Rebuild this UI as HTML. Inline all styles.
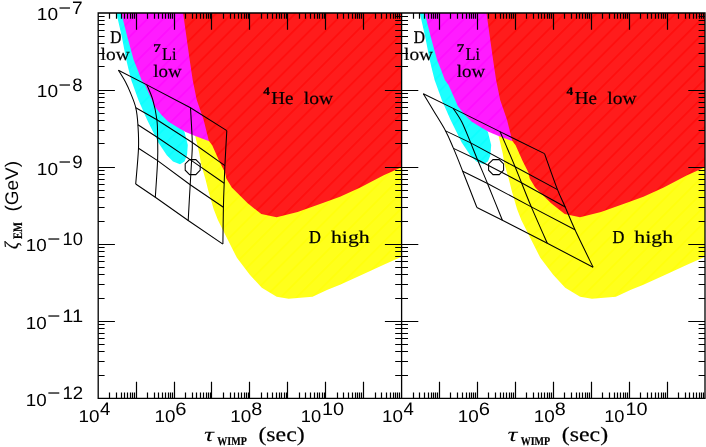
<!DOCTYPE html>
<html><head><meta charset="utf-8"><title>plot</title>
<style>
html,body{margin:0;padding:0;background:#fff;}
svg{display:block}
text{font-family:"Liberation Sans",sans-serif;fill:#000;text-rendering:geometricPrecision}
.s{font-family:"Liberation Serif",serif;stroke:#000;stroke-width:0.2px}
</style></head><body>
<svg width="706" height="447" viewBox="0 0 706 447">
<defs>
<pattern id="pr" patternUnits="userSpaceOnUse" width="11.2" height="11.2" patternTransform="rotate(-45)"><rect width="11.2" height="11.2" fill="#ff1c1c"/><line x1="0" y1="5.6" x2="11.2" y2="5.6" stroke="#ff0000" stroke-width="0.9"/></pattern>
<pattern id="pm" patternUnits="userSpaceOnUse" width="11.2" height="11.2" patternTransform="rotate(-45)"><rect width="11.2" height="11.2" fill="#ff1cff"/><line x1="0" y1="5.6" x2="11.2" y2="5.6" stroke="#ff00ff" stroke-width="0.9"/></pattern>
<pattern id="pc" patternUnits="userSpaceOnUse" width="11.2" height="11.2" patternTransform="rotate(-45)"><rect width="11.2" height="11.2" fill="#1cffff"/><line x1="0" y1="5.6" x2="11.2" y2="5.6" stroke="#00ffff" stroke-width="0.9"/></pattern>
<pattern id="py" patternUnits="userSpaceOnUse" width="11.2" height="11.2" patternTransform="rotate(-45)"><rect width="11.2" height="11.2" fill="#ffff1c"/><line x1="0" y1="5.6" x2="11.2" y2="5.6" stroke="#ffff00" stroke-width="0.9"/></pattern>
<clipPath id="cl"><rect x="98.2" y="13.0" width="303.4" height="385.4"/></clipPath>
<clipPath id="cr"><rect x="401.6" y="13.0" width="303.4" height="385.4"/></clipPath>
</defs>
<rect width="706" height="447" fill="#fff"/>
<g clip-path="url(#cl)">
<polygon points="195.2,136.1 199.4,153.8 200.8,163.0 205.6,179.8 208.1,190.0 213.6,209.0 217.9,220.0 225.9,235.9 236.9,257.8 249.8,274.8 261.8,287.7 276.7,296.7 288.6,298.7 312.5,296.7 327.5,289.7 340.0,284.7 359.8,275.7 383.7,264.8 401.6,256.8 410.0,256.0 410.0,136.1" fill="url(#py)"/>
<polygon points="116.4,13.0 121.8,36.8 126.3,60.0 128.7,70.0 131.2,80.0 138.5,100.3 147.2,120.0 158.3,142.5 166.8,155.2 173.0,161.5 180.0,164.2 184.5,161.5 187.0,155.3 187.8,145.0 184.5,131.9 170.0,110.0 150.0,60.0 125.0,13.0" fill="url(#pc)"/>
<polygon points="121.3,13.0 127.3,36.8 133.7,60.0 137.7,70.0 141.5,80.0 145.1,84.9 150.5,97.0 154.5,106.2 161.3,114.7 168.1,121.5 178.2,127.8 185.1,131.7 195.2,136.1 208.6,141.1 215.0,141.0 200.0,13.0" fill="url(#pm)"/>
<polygon points="183.1,13.0 189.7,60.0 192.7,80.0 196.7,99.8 203.6,119.8 208.8,140.8 212.2,145.3 219.2,160.9 225.0,172.6 226.3,178.4 231.8,187.5 247.7,203.3 261.3,214.1 276.6,217.2 297.6,212.0 323.5,202.7 340.0,196.7 359.8,187.8 383.7,175.2 401.6,167.2 410.0,167.2 410.0,13.0" fill="url(#pr)"/>
</g>
<g clip-path="url(#cr)">
<polygon points="498.6,136.1 502.8,153.8 504.2,163.0 509.0,179.8 511.5,190.0 517.0,209.0 521.3,220.0 529.3,235.9 540.3,257.8 553.2,274.8 565.2,287.7 580.1,296.7 592.0,298.7 615.9,296.7 630.9,289.7 643.4,284.7 663.2,275.7 687.1,264.8 705.0,256.8 713.4,256.0 713.4,136.1" fill="url(#py)"/>
<polygon points="419.8,13.0 425.2,36.8 429.7,60.0 432.1,70.0 434.6,80.0 441.9,100.3 450.6,120.0 461.7,142.5 470.2,155.2 476.4,161.5 483.4,164.2 487.9,161.5 490.4,155.3 491.2,145.0 487.9,131.9 473.4,110.0 453.4,60.0 428.4,13.0" fill="url(#pc)"/>
<polygon points="424.7,13.0 430.7,36.8 437.1,60.0 441.1,70.0 444.9,80.0 448.5,84.9 453.9,97.0 457.9,106.2 464.7,114.7 471.5,121.5 481.6,127.8 488.5,131.7 498.6,136.1 512.0,141.1 518.4,141.0 503.4,13.0" fill="url(#pm)"/>
<polygon points="486.5,13.0 493.1,60.0 496.1,80.0 500.1,99.8 507.0,119.8 512.2,140.8 515.6,145.3 522.6,160.9 528.4,172.6 529.7,178.4 535.2,187.5 551.1,203.3 564.7,214.1 580.0,217.2 601.0,212.0 626.9,202.7 643.4,196.7 663.2,187.8 687.1,175.2 705.0,167.2 713.4,167.2 713.4,13.0" fill="url(#pr)"/>
</g>
<g fill="none" stroke="#000" stroke-width="1.05" stroke-linejoin="miter">
<path d="M118.4,70.2 C119.6,72.2 123.4,78.0 125.5,82.0 C127.6,86.0 129.2,89.6 130.9,93.9 C132.6,98.2 134.6,102.7 135.8,107.8 C137.0,112.9 137.5,118.1 137.9,124.8 C138.3,131.5 138.9,138.3 138.5,148.2 C138.1,158.1 136.2,178.0 135.7,184.0"/>
<path d="M146.9,84.9 C147.9,87.4 151.1,94.0 152.8,99.8 C154.5,105.6 156.1,113.5 156.9,119.8 C157.7,126.1 157.5,130.7 157.6,137.5 C157.7,144.3 158.0,150.6 157.6,160.6 C157.2,170.6 155.7,191.2 155.3,197.3"/>
<path d="M190.5,107.8 C190.8,113.6 192.1,133.7 192.3,142.5 C192.5,151.3 191.9,153.6 191.6,160.6 C191.2,167.6 190.8,174.7 190.2,184.7 C189.6,194.7 188.5,214.5 188.2,220.5"/>
<path d="M226.8,130.6 C226.5,136.4 225.3,156.8 224.9,165.6 C224.5,174.4 224.4,176.4 224.2,183.3 C223.9,190.2 223.6,197.2 223.4,207.3 C223.2,217.4 223.0,238.0 222.9,244.1"/>
<path d="M423.3,93.7 C425.0,96.5 429.7,104.3 433.4,110.5 C437.1,116.7 442.2,124.6 445.6,130.9 C449.0,137.2 450.6,141.7 453.5,148.4 C456.4,155.1 458.8,161.3 462.7,171.2 C466.6,181.0 474.5,201.4 476.9,207.5"/>
<path d="M453.2,108.4 C454.6,110.6 458.8,116.0 461.7,121.8 C464.6,127.5 468.1,136.6 470.7,142.9 C473.3,149.2 474.7,152.9 477.5,159.7 C480.3,166.5 483.4,173.4 487.5,183.5 C491.6,193.6 499.9,214.1 502.4,220.2"/>
<path d="M500.0,131.6 C500.9,133.6 502.7,137.5 505.2,143.4 C507.7,149.3 512.4,160.2 515.1,166.8 C517.8,173.4 518.8,176.0 521.5,182.7 C524.2,189.4 527.0,196.8 531.3,206.9 C535.6,217.0 544.6,237.2 547.3,243.3"/>
<path d="M544.5,153.6 C546.7,159.6 554.0,180.7 557.5,189.6 C561.0,198.5 562.3,200.3 565.2,207.0 C568.1,213.7 570.4,219.8 575.0,229.8 C579.6,239.8 590.1,261.0 593.1,267.2"/>
<polyline points="118.4,70.2 146.9,84.9 190.5,107.8 226.8,130.6"/>
<polyline points="135.8,107.8 156.9,119.8 192.3,142.5 224.9,165.6"/>
<polyline points="137.9,124.8 157.6,137.5 191.6,160.6 224.2,183.3"/>
<polyline points="138.5,148.2 157.6,160.6 190.2,184.7 223.4,207.3"/>
<polyline points="135.7,184.0 155.3,197.3 188.2,220.5 222.9,244.1"/>
<polyline points="423.3,93.7 453.2,108.4 500.0,131.6 544.5,153.6"/>
<polyline points="445.6,130.9 470.7,142.9 515.1,166.8 557.5,189.6"/>
<polyline points="453.5,148.4 477.5,159.7 521.5,182.7 565.2,207.0"/>
<polyline points="462.7,171.2 487.5,183.5 531.3,206.9 575.0,229.8"/>
<polyline points="476.9,207.5 502.4,220.2 547.3,243.3 593.1,267.2"/>
<polygon points="200.2,170.2 195.8,174.6 189.6,174.6 185.2,170.2 185.2,164.0 189.6,159.6 195.8,159.6 200.2,164.0"/>
<polygon points="503.6,170.2 499.2,174.6 493.0,174.6 488.6,170.2 488.6,164.0 493.0,159.6 499.2,159.6 503.6,164.0"/>
</g>
<path d="M109.50,13.00v5.8M109.50,398.40v-5.8M116.50,13.00v5.8M116.50,398.40v-5.8M121.50,13.00v5.8M121.50,398.40v-5.8M124.50,13.00v5.8M124.50,398.40v-5.8M127.50,13.00v5.8M127.50,398.40v-5.8M130.50,13.00v5.8M130.50,398.40v-5.8M132.50,13.00v5.8M132.50,398.40v-5.8M134.50,13.00v5.8M134.50,398.40v-5.8M136.50,13.00v16.7M136.50,398.40v-16.7M147.50,13.00v5.8M147.50,398.40v-5.8M154.50,13.00v5.8M154.50,398.40v-5.8M158.50,13.00v5.8M158.50,398.40v-5.8M162.50,13.00v5.8M162.50,398.40v-5.8M165.50,13.00v5.8M165.50,398.40v-5.8M168.50,13.00v5.8M168.50,398.40v-5.8M170.50,13.00v5.8M170.50,398.40v-5.8M172.50,13.00v5.8M172.50,398.40v-5.8M174.50,13.00v16.7M174.50,398.40v-16.7M185.50,13.00v5.8M185.50,398.40v-5.8M192.50,13.00v5.8M192.50,398.40v-5.8M196.50,13.00v5.8M196.50,398.40v-5.8M200.50,13.00v5.8M200.50,398.40v-5.8M203.50,13.00v5.8M203.50,398.40v-5.8M206.50,13.00v5.8M206.50,398.40v-5.8M208.50,13.00v5.8M208.50,398.40v-5.8M210.50,13.00v5.8M210.50,398.40v-5.8M211.50,13.00v16.7M211.50,398.40v-16.7M223.50,13.00v5.8M223.50,398.40v-5.8M230.50,13.00v5.8M230.50,398.40v-5.8M234.50,13.00v5.8M234.50,398.40v-5.8M238.50,13.00v5.8M238.50,398.40v-5.8M241.50,13.00v5.8M241.50,398.40v-5.8M244.50,13.00v5.8M244.50,398.40v-5.8M246.50,13.00v5.8M246.50,398.40v-5.8M248.50,13.00v5.8M248.50,398.40v-5.8M249.50,13.00v16.7M249.50,398.40v-16.7M261.50,13.00v5.8M261.50,398.40v-5.8M267.50,13.00v5.8M267.50,398.40v-5.8M272.50,13.00v5.8M272.50,398.40v-5.8M276.50,13.00v5.8M276.50,398.40v-5.8M279.50,13.00v5.8M279.50,398.40v-5.8M281.50,13.00v5.8M281.50,398.40v-5.8M284.50,13.00v5.8M284.50,398.40v-5.8M286.50,13.00v5.8M286.50,398.40v-5.8M287.50,13.00v16.7M287.50,398.40v-16.7M299.50,13.00v5.8M299.50,398.40v-5.8M305.50,13.00v5.8M305.50,398.40v-5.8M310.50,13.00v5.8M310.50,398.40v-5.8M314.50,13.00v5.8M314.50,398.40v-5.8M317.50,13.00v5.8M317.50,398.40v-5.8M319.50,13.00v5.8M319.50,398.40v-5.8M322.50,13.00v5.8M322.50,398.40v-5.8M324.50,13.00v5.8M324.50,398.40v-5.8M325.50,13.00v16.7M325.50,398.40v-16.7M337.50,13.00v5.8M337.50,398.40v-5.8M343.50,13.00v5.8M343.50,398.40v-5.8M348.50,13.00v5.8M348.50,398.40v-5.8M352.50,13.00v5.8M352.50,398.40v-5.8M355.50,13.00v5.8M355.50,398.40v-5.8M357.50,13.00v5.8M357.50,398.40v-5.8M359.50,13.00v5.8M359.50,398.40v-5.8M361.50,13.00v5.8M361.50,398.40v-5.8M363.50,13.00v16.7M363.50,398.40v-16.7M375.50,13.00v5.8M375.50,398.40v-5.8M381.50,13.00v5.8M381.50,398.40v-5.8M386.50,13.00v5.8M386.50,398.40v-5.8M390.50,13.00v5.8M390.50,398.40v-5.8M393.50,13.00v5.8M393.50,398.40v-5.8M395.50,13.00v5.8M395.50,398.40v-5.8M397.50,13.00v5.8M397.50,398.40v-5.8M399.50,13.00v5.8M399.50,398.40v-5.8M413.50,13.00v5.8M413.50,398.40v-5.8M419.50,13.00v5.8M419.50,398.40v-5.8M424.50,13.00v5.8M424.50,398.40v-5.8M428.50,13.00v5.8M428.50,398.40v-5.8M431.50,13.00v5.8M431.50,398.40v-5.8M433.50,13.00v5.8M433.50,398.40v-5.8M435.50,13.00v5.8M435.50,398.40v-5.8M437.50,13.00v5.8M437.50,398.40v-5.8M439.50,13.00v16.7M439.50,398.40v-16.7M450.50,13.00v5.8M450.50,398.40v-5.8M457.50,13.00v5.8M457.50,398.40v-5.8M462.50,13.00v5.8M462.50,398.40v-5.8M466.50,13.00v5.8M466.50,398.40v-5.8M469.50,13.00v5.8M469.50,398.40v-5.8M471.50,13.00v5.8M471.50,398.40v-5.8M473.50,13.00v5.8M473.50,398.40v-5.8M475.50,13.00v5.8M475.50,398.40v-5.8M477.50,13.00v16.7M477.50,398.40v-16.7M488.50,13.00v5.8M488.50,398.40v-5.8M495.50,13.00v5.8M495.50,398.40v-5.8M500.50,13.00v5.8M500.50,398.40v-5.8M503.50,13.00v5.8M503.50,398.40v-5.8M506.50,13.00v5.8M506.50,398.40v-5.8M509.50,13.00v5.8M509.50,398.40v-5.8M511.50,13.00v5.8M511.50,398.40v-5.8M513.50,13.00v5.8M513.50,398.40v-5.8M515.50,13.00v16.7M515.50,398.40v-16.7M526.50,13.00v5.8M526.50,398.40v-5.8M533.50,13.00v5.8M533.50,398.40v-5.8M538.50,13.00v5.8M538.50,398.40v-5.8M541.50,13.00v5.8M541.50,398.40v-5.8M544.50,13.00v5.8M544.50,398.40v-5.8M547.50,13.00v5.8M547.50,398.40v-5.8M549.50,13.00v5.8M549.50,398.40v-5.8M551.50,13.00v5.8M551.50,398.40v-5.8M553.50,13.00v16.7M553.50,398.40v-16.7M564.50,13.00v5.8M564.50,398.40v-5.8M571.50,13.00v5.8M571.50,398.40v-5.8M576.50,13.00v5.8M576.50,398.40v-5.8M579.50,13.00v5.8M579.50,398.40v-5.8M582.50,13.00v5.8M582.50,398.40v-5.8M585.50,13.00v5.8M585.50,398.40v-5.8M587.50,13.00v5.8M587.50,398.40v-5.8M589.50,13.00v5.8M589.50,398.40v-5.8M591.50,13.00v16.7M591.50,398.40v-16.7M602.50,13.00v5.8M602.50,398.40v-5.8M609.50,13.00v5.8M609.50,398.40v-5.8M614.50,13.00v5.8M614.50,398.40v-5.8M617.50,13.00v5.8M617.50,398.40v-5.8M620.50,13.00v5.8M620.50,398.40v-5.8M623.50,13.00v5.8M623.50,398.40v-5.8M625.50,13.00v5.8M625.50,398.40v-5.8M627.50,13.00v5.8M627.50,398.40v-5.8M629.50,13.00v16.7M629.50,398.40v-16.7M640.50,13.00v5.8M640.50,398.40v-5.8M647.50,13.00v5.8M647.50,398.40v-5.8M651.50,13.00v5.8M651.50,398.40v-5.8M655.50,13.00v5.8M655.50,398.40v-5.8M658.50,13.00v5.8M658.50,398.40v-5.8M661.50,13.00v5.8M661.50,398.40v-5.8M663.50,13.00v5.8M663.50,398.40v-5.8M665.50,13.00v5.8M665.50,398.40v-5.8M667.50,13.00v16.7M667.50,398.40v-16.7M678.50,13.00v5.8M678.50,398.40v-5.8M685.50,13.00v5.8M685.50,398.40v-5.8M689.50,13.00v5.8M689.50,398.40v-5.8M693.50,13.00v5.8M693.50,398.40v-5.8M696.50,13.00v5.8M696.50,398.40v-5.8M699.50,13.00v5.8M699.50,398.40v-5.8M701.50,13.00v5.8M701.50,398.40v-5.8M703.50,13.00v5.8M703.50,398.40v-5.8M98.20,66.50h6.4M395.20,66.50h12.8M705.00,66.50h-6.4M98.20,53.50h6.4M395.20,53.50h12.8M705.00,53.50h-6.4M98.20,43.50h6.4M395.20,43.50h12.8M705.00,43.50h-6.4M98.20,36.50h6.4M395.20,36.50h12.8M705.00,36.50h-6.4M98.20,30.50h6.4M395.20,30.50h12.8M705.00,30.50h-6.4M98.20,24.50h6.4M395.20,24.50h12.8M705.00,24.50h-6.4M98.20,20.50h6.4M395.20,20.50h12.8M705.00,20.50h-6.4M98.20,16.50h6.4M395.20,16.50h12.8M705.00,16.50h-6.4M98.20,90.50h16.7M384.90,90.50h33.4M705.00,90.50h-16.7M98.20,143.50h6.4M395.20,143.50h12.8M705.00,143.50h-6.4M98.20,130.50h6.4M395.20,130.50h12.8M705.00,130.50h-6.4M98.20,120.50h6.4M395.20,120.50h12.8M705.00,120.50h-6.4M98.20,113.50h6.4M395.20,113.50h12.8M705.00,113.50h-6.4M98.20,107.50h6.4M395.20,107.50h12.8M705.00,107.50h-6.4M98.20,102.50h6.4M395.20,102.50h12.8M705.00,102.50h-6.4M98.20,97.50h6.4M395.20,97.50h12.8M705.00,97.50h-6.4M98.20,93.50h6.4M395.20,93.50h12.8M705.00,93.50h-6.4M98.20,167.50h16.7M384.90,167.50h33.4M705.00,167.50h-16.7M98.20,221.50h6.4M395.20,221.50h12.8M705.00,221.50h-6.4M98.20,207.50h6.4M395.20,207.50h12.8M705.00,207.50h-6.4M98.20,197.50h6.4M395.20,197.50h12.8M705.00,197.50h-6.4M98.20,190.50h6.4M395.20,190.50h12.8M705.00,190.50h-6.4M98.20,184.50h6.4M395.20,184.50h12.8M705.00,184.50h-6.4M98.20,179.50h6.4M395.20,179.50h12.8M705.00,179.50h-6.4M98.20,174.50h6.4M395.20,174.50h12.8M705.00,174.50h-6.4M98.20,170.50h6.4M395.20,170.50h12.8M705.00,170.50h-6.4M98.20,244.50h16.7M384.90,244.50h33.4M705.00,244.50h-16.7M98.20,298.50h6.4M395.20,298.50h12.8M705.00,298.50h-6.4M98.20,284.50h6.4M395.20,284.50h12.8M705.00,284.50h-6.4M98.20,274.50h6.4M395.20,274.50h12.8M705.00,274.50h-6.4M98.20,267.50h6.4M395.20,267.50h12.8M705.00,267.50h-6.4M98.20,261.50h6.4M395.20,261.50h12.8M705.00,261.50h-6.4M98.20,256.50h6.4M395.20,256.50h12.8M705.00,256.50h-6.4M98.20,251.50h6.4M395.20,251.50h12.8M705.00,251.50h-6.4M98.20,247.50h6.4M395.20,247.50h12.8M705.00,247.50h-6.4M98.20,321.50h16.7M384.90,321.50h33.4M705.00,321.50h-16.7M98.20,375.50h6.4M395.20,375.50h12.8M705.00,375.50h-6.4M98.20,361.50h6.4M395.20,361.50h12.8M705.00,361.50h-6.4M98.20,351.50h6.4M395.20,351.50h12.8M705.00,351.50h-6.4M98.20,344.50h6.4M395.20,344.50h12.8M705.00,344.50h-6.4M98.20,338.50h6.4M395.20,338.50h12.8M705.00,338.50h-6.4M98.20,333.50h6.4M395.20,333.50h12.8M705.00,333.50h-6.4M98.20,328.50h6.4M395.20,328.50h12.8M705.00,328.50h-6.4M98.20,324.50h6.4M395.20,324.50h12.8M705.00,324.50h-6.4" stroke="#000" stroke-width="1.2" fill="none"/>
<path d="M98.2,13.0H705.0V398.4H98.2ZM401.6,13.0V398.4" stroke="#000" stroke-width="1.3" fill="none"/>
<g opacity="0.999">
<text class="s" x="110.23" y="43.10" font-size="17.9" textLength="11.22" lengthAdjust="spacingAndGlyphs" style="stroke-width:0.35px">D</text>
<text class="s" x="100.61" y="59.80" font-size="17.6" textLength="29.09" lengthAdjust="spacingAndGlyphs">low</text>
<text class="s" font-weight="bold" x="153.38" y="51.50" font-size="11.9" textLength="7.50" lengthAdjust="spacingAndGlyphs">7</text>
<text class="s" x="162.11" y="59.90" font-size="17.9" textLength="14.49" lengthAdjust="spacingAndGlyphs">Li</text>
<text class="s" x="153.32" y="77.10" font-size="17.6" textLength="28.38" lengthAdjust="spacingAndGlyphs">low</text>
<text class="s" font-weight="bold" x="263.20" y="95.30" font-size="11.5" textLength="6.67" lengthAdjust="spacingAndGlyphs">4</text>
<text class="s" x="271.33" y="104.40" font-size="18.2" textLength="22.15" lengthAdjust="spacingAndGlyphs">He</text>
<text class="s" x="303.81" y="104.40" font-size="17.6" textLength="29.29" lengthAdjust="spacingAndGlyphs">low</text>
<text class="s" x="309.01" y="242.50" font-size="18.2" textLength="11.89" lengthAdjust="spacingAndGlyphs" style="stroke-width:0.35px">D</text>
<text class="s" x="330.98" y="242.50" font-size="17.8" textLength="38.70" lengthAdjust="spacingAndGlyphs">high</text>
<text x="78.58" y="421.60" font-size="17.2" textLength="21.02" lengthAdjust="spacingAndGlyphs">10</text>
<text x="100.03" y="415.10" font-size="18.0" textLength="10.34" lengthAdjust="spacingAndGlyphs">4</text>
<text x="154.43" y="421.60" font-size="17.2" textLength="21.02" lengthAdjust="spacingAndGlyphs">10</text>
<text x="175.34" y="415.10" font-size="18.0" textLength="11.24" lengthAdjust="spacingAndGlyphs">6</text>
<text x="230.28" y="421.60" font-size="17.2" textLength="21.02" lengthAdjust="spacingAndGlyphs">10</text>
<text x="251.31" y="415.10" font-size="18.0" textLength="11.01" lengthAdjust="spacingAndGlyphs">8</text>
<text x="300.78" y="421.60" font-size="17.2" textLength="20.35" lengthAdjust="spacingAndGlyphs">10</text>
<text x="322.06" y="415.10" font-size="18.0" textLength="22.14" lengthAdjust="spacingAndGlyphs">10</text>
<text class="s" font-style="italic" x="204.01" y="440.70" font-size="20.0" textLength="9.90" lengthAdjust="spacingAndGlyphs" style="stroke-width:0">τ</text>
<text class="s" font-weight="bold" x="217.25" y="444.70" font-size="11.8" textLength="29.54" lengthAdjust="spacingAndGlyphs">WIMP</text>
<text class="s" x="258.43" y="440.70" font-size="20.5" textLength="46.29" lengthAdjust="spacingAndGlyphs">(sec)</text>
<text class="s" x="413.63" y="43.10" font-size="17.9" textLength="11.22" lengthAdjust="spacingAndGlyphs" style="stroke-width:0.35px">D</text>
<text class="s" x="404.01" y="59.80" font-size="17.6" textLength="29.09" lengthAdjust="spacingAndGlyphs">low</text>
<text class="s" font-weight="bold" x="456.77" y="51.50" font-size="11.9" textLength="7.50" lengthAdjust="spacingAndGlyphs">7</text>
<text class="s" x="465.51" y="59.90" font-size="17.9" textLength="14.49" lengthAdjust="spacingAndGlyphs">Li</text>
<text class="s" x="456.72" y="77.10" font-size="17.6" textLength="28.38" lengthAdjust="spacingAndGlyphs">low</text>
<text class="s" font-weight="bold" x="566.60" y="95.30" font-size="11.5" textLength="6.67" lengthAdjust="spacingAndGlyphs">4</text>
<text class="s" x="574.73" y="104.40" font-size="18.2" textLength="22.15" lengthAdjust="spacingAndGlyphs">He</text>
<text class="s" x="607.21" y="104.40" font-size="17.6" textLength="29.29" lengthAdjust="spacingAndGlyphs">low</text>
<text class="s" x="612.41" y="242.50" font-size="18.2" textLength="11.89" lengthAdjust="spacingAndGlyphs" style="stroke-width:0.35px">D</text>
<text class="s" x="634.38" y="242.50" font-size="17.8" textLength="38.70" lengthAdjust="spacingAndGlyphs">high</text>
<text x="381.98" y="421.60" font-size="17.2" textLength="21.02" lengthAdjust="spacingAndGlyphs">10</text>
<text x="403.44" y="415.10" font-size="18.0" textLength="10.34" lengthAdjust="spacingAndGlyphs">4</text>
<text x="457.83" y="421.60" font-size="17.2" textLength="21.02" lengthAdjust="spacingAndGlyphs">10</text>
<text x="478.74" y="415.10" font-size="18.0" textLength="11.24" lengthAdjust="spacingAndGlyphs">6</text>
<text x="533.68" y="421.60" font-size="17.2" textLength="21.02" lengthAdjust="spacingAndGlyphs">10</text>
<text x="554.71" y="415.10" font-size="18.0" textLength="11.01" lengthAdjust="spacingAndGlyphs">8</text>
<text x="604.18" y="421.60" font-size="17.2" textLength="20.35" lengthAdjust="spacingAndGlyphs">10</text>
<text x="625.46" y="415.10" font-size="18.0" textLength="22.14" lengthAdjust="spacingAndGlyphs">10</text>
<text class="s" font-style="italic" x="507.41" y="440.70" font-size="20.0" textLength="9.90" lengthAdjust="spacingAndGlyphs" style="stroke-width:0">τ</text>
<text class="s" font-weight="bold" x="520.65" y="444.70" font-size="11.8" textLength="29.54" lengthAdjust="spacingAndGlyphs">WIMP</text>
<text class="s" x="561.83" y="440.70" font-size="20.5" textLength="46.29" lengthAdjust="spacingAndGlyphs">(sec)</text>
<text x="36.77" y="20.40" font-size="17.6" textLength="21.24" lengthAdjust="spacingAndGlyphs">10</text>
<text x="58.43" y="13.70" font-size="18.0" textLength="12.52" lengthAdjust="spacingAndGlyphs">−</text>
<text x="72.14" y="13.70" font-size="18.0" textLength="10.63" lengthAdjust="spacingAndGlyphs">7</text>
<text x="36.77" y="97.48" font-size="17.6" textLength="21.24" lengthAdjust="spacingAndGlyphs">10</text>
<text x="58.43" y="90.78" font-size="18.0" textLength="12.52" lengthAdjust="spacingAndGlyphs">−</text>
<text x="72.27" y="90.78" font-size="18.0" textLength="10.30" lengthAdjust="spacingAndGlyphs">8</text>
<text x="36.77" y="174.56" font-size="17.6" textLength="21.24" lengthAdjust="spacingAndGlyphs">10</text>
<text x="58.43" y="167.86" font-size="18.0" textLength="12.52" lengthAdjust="spacingAndGlyphs">−</text>
<text x="72.26" y="167.86" font-size="18.0" textLength="10.41" lengthAdjust="spacingAndGlyphs">9</text>
<text x="25.89" y="251.44" font-size="17.6" textLength="20.91" lengthAdjust="spacingAndGlyphs">10</text>
<text x="47.18" y="245.04" font-size="18.0" textLength="13.12" lengthAdjust="spacingAndGlyphs">−</text>
<text x="62.52" y="245.04" font-size="18.0" textLength="20.46" lengthAdjust="spacingAndGlyphs">10</text>
<text x="25.89" y="328.52" font-size="17.6" textLength="20.91" lengthAdjust="spacingAndGlyphs">10</text>
<text x="47.18" y="322.12" font-size="18.0" textLength="13.12" lengthAdjust="spacingAndGlyphs">−</text>
<text x="62.39" y="322.12" font-size="18.0" textLength="20.88" lengthAdjust="spacingAndGlyphs">11</text>
<text x="25.89" y="405.60" font-size="17.6" textLength="20.91" lengthAdjust="spacingAndGlyphs">10</text>
<text x="47.18" y="399.20" font-size="18.0" textLength="13.12" lengthAdjust="spacingAndGlyphs">−</text>
<text x="62.51" y="399.20" font-size="18.0" textLength="20.67" lengthAdjust="spacingAndGlyphs">12</text>
<text class="s" font-style="italic" transform="translate(18.10,249.12) rotate(-90)" font-size="19.4" textLength="6.97" lengthAdjust="spacingAndGlyphs">ζ</text>
<text class="s" font-weight="bold" transform="translate(22.30,238.96) rotate(-90)" font-size="13.0" textLength="16.78" lengthAdjust="spacingAndGlyphs">EM</text>
<text transform="translate(17.60,211.54) rotate(-90)" font-size="18.3" textLength="50.51" lengthAdjust="spacingAndGlyphs">(GeV)</text>
</g>
</svg></body></html>
